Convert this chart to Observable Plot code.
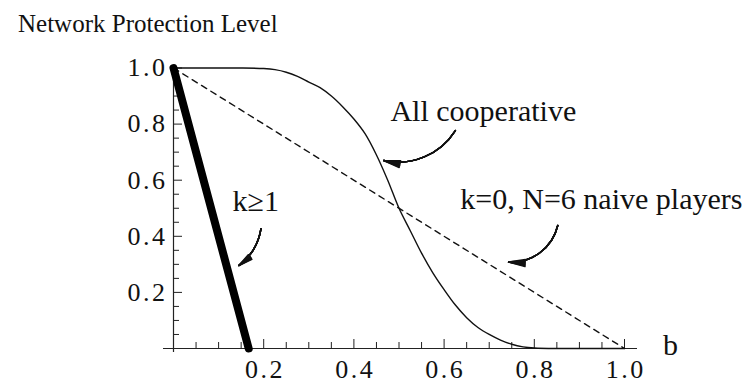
<!DOCTYPE html>
<html>
<head>
<meta charset="utf-8">
<script src="https://cdn.jsdelivr.net/npm/d3@7"></script>
<script src="https://cdn.jsdelivr.net/npm/@observablehq/plot@0.6"></script>
<style>
  html, body { margin: 0; padding: 0; background: #fff; }
  #title { height: 46px; box-sizing: border-box; padding: 11px 0 0 18px; font: 25px/25px "Liberation Serif", serif; color: #111; white-space: nowrap; }
  #chart svg { display: block; }
  #chart g[aria-label="x-axis tick label"] text, #chart g[aria-label="y-axis tick label"] text { letter-spacing: 2.5px; }
</style>
</head>
<body>
<div id="title">Network Protection Level</div>
<div id="chart"></div>
<script>
// Data
const bGrid = [0, 0.05, 0.1, 0.15, 0.2, 0.225, 0.25, 0.275, 0.3, 0.325, 0.35, 0.375, 0.4, 0.425, 0.45, 0.475, 0.5, 0.525, 0.55, 0.575, 0.6, 0.625, 0.65, 0.675, 0.7, 0.725, 0.75, 0.775, 0.8, 0.85, 0.9, 0.95, 1.0];
const coopLevel = [1, 1, 1, 1, 0.998, 0.994, 0.985, 0.97, 0.95, 0.93, 0.9, 0.862, 0.818, 0.765, 0.69, 0.6, 0.5, 0.42, 0.34, 0.27, 0.21, 0.155, 0.11, 0.075, 0.05, 0.03, 0.015, 0.006, 0.002, 0, 0, 0, 0];
const naiveB = [0, 1];
const naiveLevel = [1, 0];
const kB = [0, 0.1667];
const kLevel = [1, 0];

const xMajor = [0.2, 0.4, 0.6, 0.8, 1.0];
const xMinor = [0.05, 0.1, 0.15, 0.25, 0.3, 0.35, 0.45, 0.5, 0.55, 0.65, 0.7, 0.75, 0.85, 0.9, 0.95];
const yMajor = [0.2, 0.4, 0.6, 0.8, 1.0];
const yMinor = [0.05, 0.1, 0.15, 0.25, 0.3, 0.35, 0.45, 0.5, 0.55, 0.65, 0.7, 0.75, 0.85, 0.9, 0.95];

const serif = "Liberation Serif, Times New Roman, serif";
const fmt = d3.format(".1f");

function note(text, b, v, anchor) {
  return Plot.text([{text, b, v}], {x: "b", y: "v", text: "text", textAnchor: anchor, fontSize: 30, fontFamily: serif, fill: "#111"});
}
// curved pointer with a filled-looking head (stacked chevrons of decreasing angle)
function pointer(x1, y1, x2, y2, bend) {
  const d = [{x1, y1, x2, y2}];
  const base = {x1: "x1", y1: "y1", x2: "x2", y2: "y2", bend, stroke: "#111"};
  const marks = [Plot.arrow(d, {...base, strokeWidth: 1.3, headLength: 0})];
  const full = 24, len = 17;
  for (const a of [24, 18, 12, 6, 0.5]) {
    const L = len * Math.cos((full / 2) * Math.PI / 180) / Math.cos((a / 2) * Math.PI / 180);
    marks.push(Plot.arrow(d, {...base, strokeWidth: 1.5, headAngle: a, headLength: L}));
  }
  return marks;
}

const chart = Plot.plot({
  width: 748,
  height: 337,
  marginLeft: 173,
  marginRight: 111,
  marginTop: 21.5,
  marginBottom: 35,
  x: {domain: [0, 1.0288]},
  y: {domain: [0, 1]},
  style: {fontFamily: serif, background: "white", color: "#111", overflow: "visible"},
  marks: [
    // axis lines
    Plot.ruleY([0], {insetLeft: -10, stroke: "#222", strokeWidth: 1.2}),
    Plot.ruleX([0], {insetBottom: -4, stroke: "#222", strokeWidth: 1.2}),
    // inward ticks
    Plot.axisX(xMajor, {tickSize: -9, fill: "none", stroke: "#222", label: null}),
    Plot.axisX(xMinor, {tickSize: -6, fill: "none", stroke: "#222", label: null}),
    Plot.axisY(yMajor, {tickSize: -9, fill: "none", stroke: "#222", label: null}),
    Plot.axisY(yMinor, {tickSize: -6, fill: "none", stroke: "#222", label: null}),
    // tick labels
    Plot.axisX(xMajor, {tickSize: 0, tickPadding: 11, dx: 1.25, tickFormat: fmt, fontSize: 26, fontFamily: serif, fill: "#111", label: null}),
    Plot.axisY(yMajor, {tickSize: 0, tickPadding: 6, tickFormat: fmt, fontSize: 26, fontFamily: serif, fill: "#111", label: null}),
    // curves
    Plot.line(naiveB.map((b, i) => ({b, v: naiveLevel[i]})), {x: "b", y: "v", stroke: "#111", strokeWidth: 1.4, strokeDasharray: "6,5"}),
    Plot.line(bGrid.map((b, i) => ({b, v: coopLevel[i]})), {x: "b", y: "v", stroke: "#111", strokeWidth: 1.4, curve: "catmull-rom"}),
    Plot.line(kB.map((b, i) => ({b, v: kLevel[i]})), {x: "b", y: "v", stroke: "#000", strokeWidth: 8}),
    // annotations
    ...pointer(0.625, 0.777, 0.466, 0.670, 35),
    ...pointer(0.852, 0.4385, 0.743, 0.308, 40),
    ...pointer(0.194, 0.427, 0.145, 0.296, 22),
    note("All cooperative", 0.481, 0.845, "start"),
    note("k=0, N=6 naive players", 0.636, 0.53, "start"),
    note("k\u22651", 0.131, 0.526, "start"),
    note("b", 1.102, 0.01, "middle")
  ]
});
document.getElementById("chart").appendChild(chart);
</script>
</body>
</html>
